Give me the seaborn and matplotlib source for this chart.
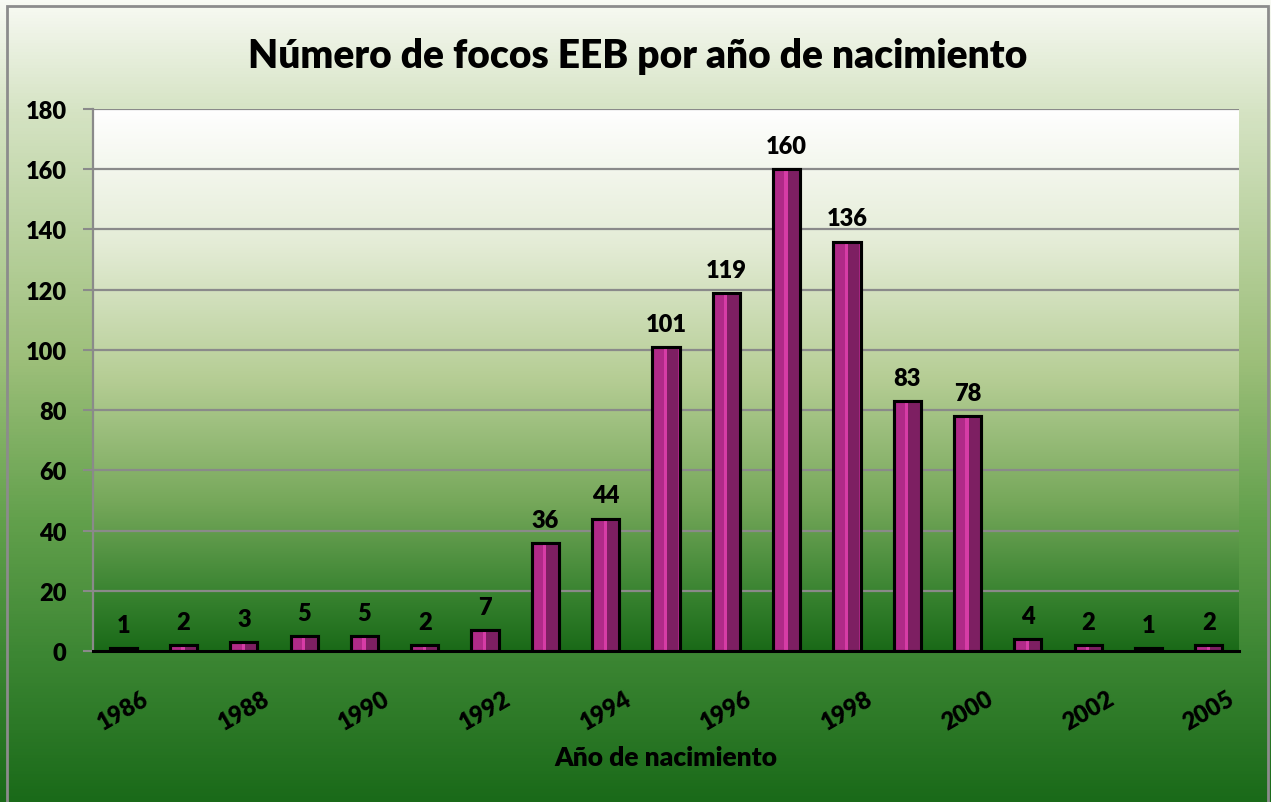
"""Número de focos EEB por año de nacimiento."""
import numpy as np
import pandas as pd
import matplotlib
matplotlib.use("Agg")
import matplotlib.pyplot as plt
from matplotlib.colors import LinearSegmentedColormap
import seaborn as sns

years = ["1986", "1987", "1988", "1989", "1990", "1991", "1992", "1993", "1994", "1995",
         "1996", "1997", "1998", "1999", "2000", "2001", "2002", "2003", "2005"]
focos = [1, 2, 3, 5, 5, 2, 7, 36, 44, 101, 119, 160, 136, 83, 78, 4, 2, 1, 2]
y_ticks = [0, 20, 40, 60, 80, 100, 120, 140, 160, 180]

df = pd.DataFrame({"year": years, "focos": focos})

sns.set_theme(style="white")
plt.rcParams["font.family"] = ["Lato", "DejaVu Sans"]
plt.rcParams["text.color"] = "black"
plt.rcParams["axes.labelcolor"] = "black"
plt.rcParams["xtick.color"] = "black"
plt.rcParams["ytick.color"] = "black"

fig = plt.figure(figsize=(12.71, 8.03), dpi=100)

# figure background gradient
bg = fig.add_axes([0, 0, 1, 1], zorder=-10)
fig_cmap = LinearSegmentedColormap.from_list(
    "figbg", [(0.0, "#f8faf4"), (0.14, "#d5e3c3"), (0.45, "#9dbf7a"),
              (0.65, "#62a04c"), (0.82, "#3c8633"), (1.0, "#1a6a19")])
bg.imshow(np.linspace(0, 1, 256).reshape(-1, 1), aspect="auto", cmap=fig_cmap,
          extent=(0, 1, 0, 1))
bg.set_xlim(0, 1)
bg.set_ylim(0, 1)
bg.axis("off")
bg.add_patch(plt.Rectangle((0.0055, -0.01), 0.9925, 1.001, fill=False,
                           edgecolor="#8c8c8c", linewidth=2))

ax = fig.add_axes([0.0732, 0.188, 0.9016, 0.675])
ax.patch.set_alpha(0)

plot_cmap = LinearSegmentedColormap.from_list(
    "plotbg", [(0.0, "#ffffff"), (0.25, "#e4ecd6"), (0.5, "#b5cd94"),
               (0.72, "#78a95c"), (0.9, "#37822f"), (1.0, "#1a6a18")])
n = len(years)
ax.imshow(np.linspace(0, 1, 256).reshape(-1, 1), aspect="auto", cmap=plot_cmap,
          extent=(-0.5, n - 0.5, 0, 180), zorder=0)

for yv in y_ticks[1:]:
    ax.axhline(yv, color="#8a8a8a", linewidth=1.6, zorder=1)

bar_w = 0.45
sns.barplot(data=df, x="year", y="focos", color="#b02a88", saturation=1,
            width=bar_w, edgecolor="black", linewidth=2.2, ax=ax, zorder=3)

# bevel shading: darker right side, lighter stripe
xs = np.arange(n)
ax.bar(xs + bar_w * 0.25, df["focos"], width=bar_w * 0.42, color="#7d1f62",
       linewidth=0, zorder=4)
ax.bar(xs - bar_w * 0.02, df["focos"], width=bar_w * 0.12, color="#d63ca6",
       linewidth=0, zorder=4)
ax.bar(xs, df["focos"], width=bar_w, fill=False, edgecolor="black",
       linewidth=2.2, zorder=5)

for x, v in zip(xs, focos):
    ax.text(x, v + 4, str(v), ha="center", va="bottom", fontsize=17,
            fontweight="heavy", color="black", zorder=6)

ax.set_xlim(-0.5, n - 0.5)
ax.set_ylim(0, 180)
ax.set_yticks(y_ticks)
ax.set_yticklabels([str(t) for t in y_ticks], fontsize=17, fontweight="heavy")

ax.set_xticks(xs[::2])
ax.set_xticklabels(years[::2], rotation=30, ha="center", fontsize=17,
                   fontweight="heavy")
ax.set_xticks(np.arange(-0.5, n), minor=True)
ax.tick_params(axis="x", which="major", length=0, pad=26)
ax.tick_params(axis="x", which="minor", length=7, width=1.5, color="black")
ax.tick_params(axis="y", which="major", length=7, width=1.5, color="#8a8a8a",
               pad=12, left=True)

for s in ["top", "right"]:
    ax.spines[s].set_visible(False)
ax.spines["left"].set_color("#8a8a8a")
ax.spines["left"].set_linewidth(1.6)
ax.spines["bottom"].set_color("black")
ax.spines["bottom"].set_linewidth(2.2)
ax.spines["bottom"].set_zorder(7)

ax.set_xlabel("Año de nacimiento", fontsize=19, fontweight="heavy", labelpad=8)
ax.set_ylabel("")
fig.text(0.502, 0.93, "Número de focos EEB por año de nacimiento",
         ha="center", va="center", fontsize=28, fontweight="heavy")

fig.savefig("out.png", dpi=100)
plt.close(fig)
